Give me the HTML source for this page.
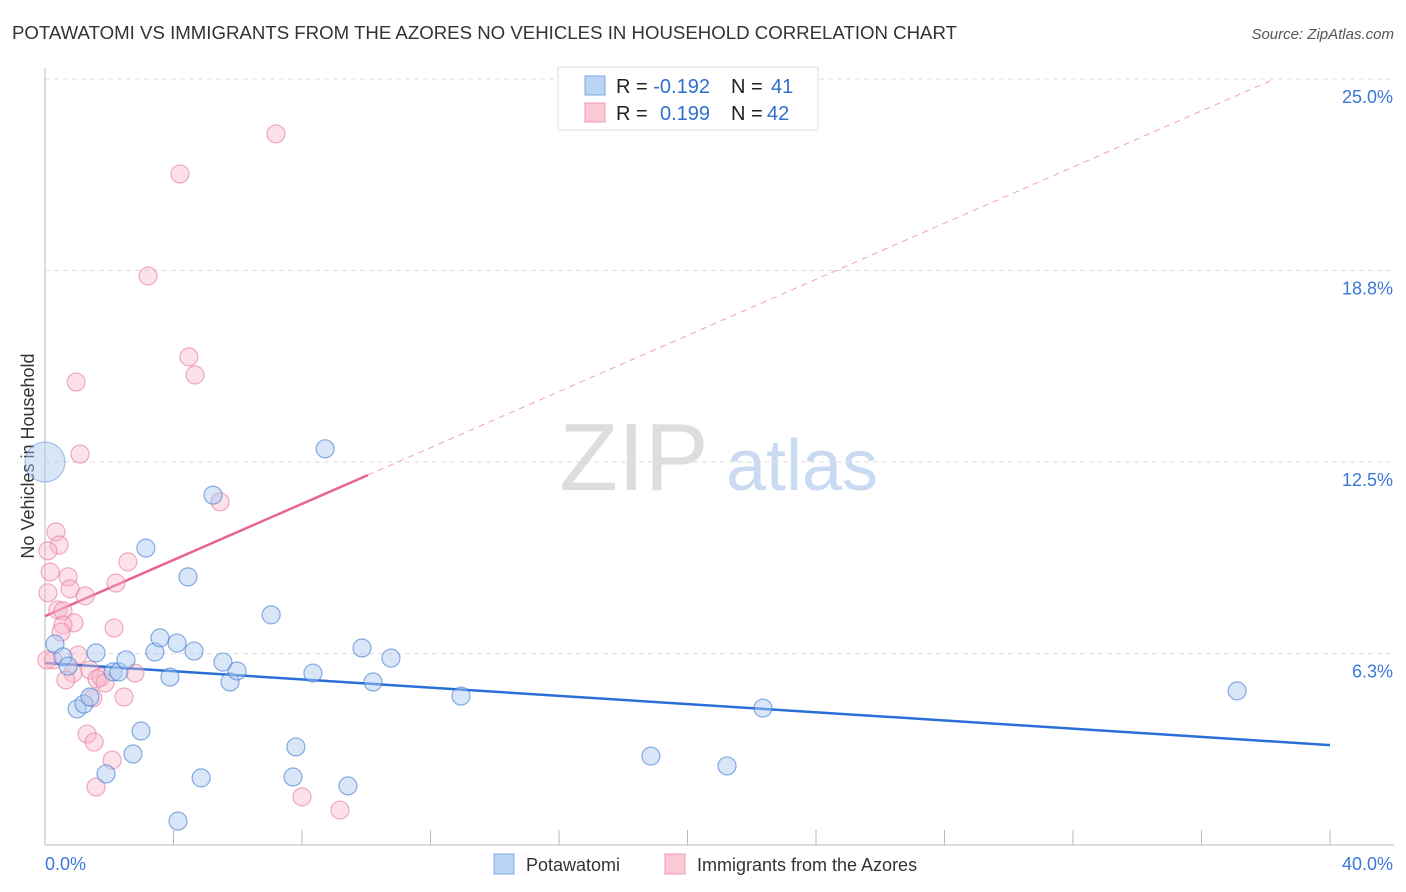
<!DOCTYPE html>
<html><head><meta charset="utf-8"><style>
body{margin:0;background:#fff;font-family:"Liberation Sans",sans-serif;}
#wrap{position:relative;width:1406px;height:892px;overflow:hidden;}
svg text{font-family:"Liberation Sans",sans-serif;}
</style></head><body>
<div id="wrap">
<svg id="chart" width="1406" height="892">
<text x="12" y="39" font-size="18" fill="#333" textLength="945" lengthAdjust="spacingAndGlyphs">POTAWATOMI VS IMMIGRANTS FROM THE AZORES NO VEHICLES IN HOUSEHOLD CORRELATION CHART</text>
<text x="1394" y="39" font-size="15" fill="#555" font-style="italic" text-anchor="end">Source: ZipAtlas.com</text>
<text x="0" y="0" transform="translate(34,456) rotate(-90)" font-size="18" fill="#333" text-anchor="middle">No Vehicles in Household</text>
<g><text x="634" y="490" font-size="96" fill="#ddd" font-family="Liberation Serif" text-anchor="middle">ZIP</text><text x="802" y="490" font-size="72" fill="#c9daf2" text-anchor="middle">atlas</text></g>
<g id="grid"></g><g id="axes"></g><g id="lines"></g><g id="pts"></g>
<g>
<rect x="558" y="67" width="260" height="63" fill="#fff" stroke="#ddd"/>
<rect x="585" y="76" width="20" height="19" fill="#b9d3f5" stroke="#7aa7e6"/>
<rect x="585" y="103" width="20" height="19" fill="#fbc8d6" stroke="#f09ab2"/>
<text x="616" y="93" font-size="20" fill="#222">R = <tspan fill="#2f6fd0">-0.192</tspan><tspan x="731">N = </tspan><tspan x="771" fill="#2f6fd0">41</tspan></text>
<text x="616" y="120" font-size="20" fill="#222">R = <tspan x="660" fill="#2f6fd0">0.199</tspan><tspan x="731">N = </tspan><tspan x="767" fill="#2f6fd0">42</tspan></text>
</g>
<g>
<rect x="494" y="854" width="20" height="20" fill="#b9d3f5" stroke="#7aa7e6"/>
<text x="526" y="871" font-size="18" fill="#333">Potawatomi</text>
<rect x="665" y="854" width="20" height="20" fill="#fbc8d6" stroke="#f09ab2"/>
<text x="697" y="871" font-size="18" fill="#333">Immigrants from the Azores</text>
</g>
</svg></div>
<script>
const blueX=[0,0.31,0.56,0.72,1.00,1.21,1.40,1.59,1.90,2.12,2.30,2.52,2.74,2.99,3.14,3.42,3.58,3.89,4.11,4.14,4.45,4.64,4.86,5.23,5.54,5.76,5.98,7.04,7.72,7.81,8.34,8.72,9.43,9.87,10.21,10.77,12.95,18.86,21.23,22.35,37.11];
const blueY=[12.5,6.56,6.14,5.84,4.44,4.60,4.83,6.27,2.32,5.65,5.65,6.04,2.97,3.72,9.69,6.30,6.76,5.48,6.59,0.78,8.75,6.33,2.19,11.42,5.97,5.32,5.68,7.51,2.22,3.20,5.61,12.93,1.93,6.43,5.32,6.10,4.86,2.90,2.58,4.47,5.03];
const pinkX=[7.19,4.20,3.21,4.48,4.67,0.97,1.09,5.45,0.34,0.44,0.09,2.58,0.16,0.72,2.21,0.78,0.09,1.25,0.40,0.56,0.90,0.56,0.50,2.15,1.03,0.25,1.40,0.87,0.65,1.74,1.62,2.80,1.87,2.46,1.49,1.31,1.53,2.09,1.59,8.00,9.18,0.06];
const pinkY=[23.21,21.90,18.57,15.93,15.34,15.11,12.76,11.20,10.22,9.79,9.60,9.24,8.91,8.75,8.55,8.36,8.23,8.13,7.67,7.64,7.25,7.18,6.95,7.08,6.20,6.04,5.71,5.61,5.39,5.48,5.42,5.61,5.29,4.83,4.80,3.62,3.36,2.77,1.89,1.57,1.14,6.04];
const yTicks=[6.25,12.5,18.75,25.0];
const yTickLabels=["6.3%","12.5%","18.8%","25.0%"];
const blueTrend=[5.94,3.26]; // values at x=0 and x=40
const pinkTrend=[7.47,0.458]; // intercept, slope
const pinkSolidEnd=10.05;
const NS="http://www.w3.org/2000/svg";
const sx=v=>45+v/40*1285, sy=v=>845-v/6.25*191.5;
function mk(t,a,p){const e=document.createElementNS(NS,t);for(const k in a)e.setAttribute(k,a[k]);p.appendChild(e);return e;}
const grid=document.getElementById('grid'),axes=document.getElementById('axes'),lines=document.getElementById('lines'),pts=document.getElementById('pts');
yTicks.forEach((t,i)=>{
 const g=mk('line',{x1:45,x2:1394,y1:sy(t),y2:sy(t),stroke:'#ddd','stroke-dasharray':'5,4'},grid);
 
 
 const l=mk('text',{x:1393,y:sy(t)+24,'font-size':18,fill:'#3a78d8','text-anchor':'end'},axes);
 l.textContent=yTickLabels[i];
 
 
});
const ya=mk('line',{x1:45,x2:45,y1:68,y2:845,stroke:'#bbb'},axes);


const xa=mk('line',{x1:45,x2:1394,y1:845,y2:845,stroke:'#bbb'},axes);


for(let i=0;i<=10;i++){const t=mk('line',{x1:sx(i*4),x2:sx(i*4),y1:830,y2:845,stroke:'#bbb'},axes);
 
 }
[[0,'0.0%','start',45],[40,'40.0%','end',1393]].forEach(d=>{const l=mk('text',{x:d[3],y:870,'font-size':18,fill:'#3a78d8','text-anchor':d[2]},axes);l.textContent=d[1];
 
 });
const bl=mk('line',{x1:sx(0),y1:sy(blueTrend[0]),x2:sx(40),y2:sy(blueTrend[1]),stroke:'#2a6fd6','stroke-width':2.5},lines);


const pe=(25-pinkTrend[0])/pinkTrend[1];
const pd=mk('line',{x1:sx(pinkSolidEnd),y1:sy(pinkTrend[0]+pinkTrend[1]*pinkSolidEnd),x2:sx(pe),y2:sy(25),stroke:'#f0a0b8','stroke-width':1,'stroke-dasharray':'6,5'},lines);


const ps=mk('line',{x1:sx(0),y1:sy(pinkTrend[0]),x2:sx(pinkSolidEnd),y2:sy(pinkTrend[0]+pinkTrend[1]*pinkSolidEnd),stroke:'#e8648e','stroke-width':2.5},lines);


pinkX.forEach((x,i)=>{const c=mk('circle',{cx:sx(x),cy:sy(pinkY[i]),r:9,fill:'rgba(248,180,200,0.4)',stroke:'rgba(232,120,155,0.6)','stroke-width':1.2},pts);
 
 });
blueX.forEach((x,i)=>{const c=mk('circle',{cx:sx(x),cy:sy(blueY[i]),r:i==0?20:9,fill:'rgba(170,200,240,0.45)',stroke:i==0?'rgba(60,120,210,0.4)':'rgba(60,120,210,0.6)','stroke-width':1.2},pts);
 
 });
</script>
</body></html>
